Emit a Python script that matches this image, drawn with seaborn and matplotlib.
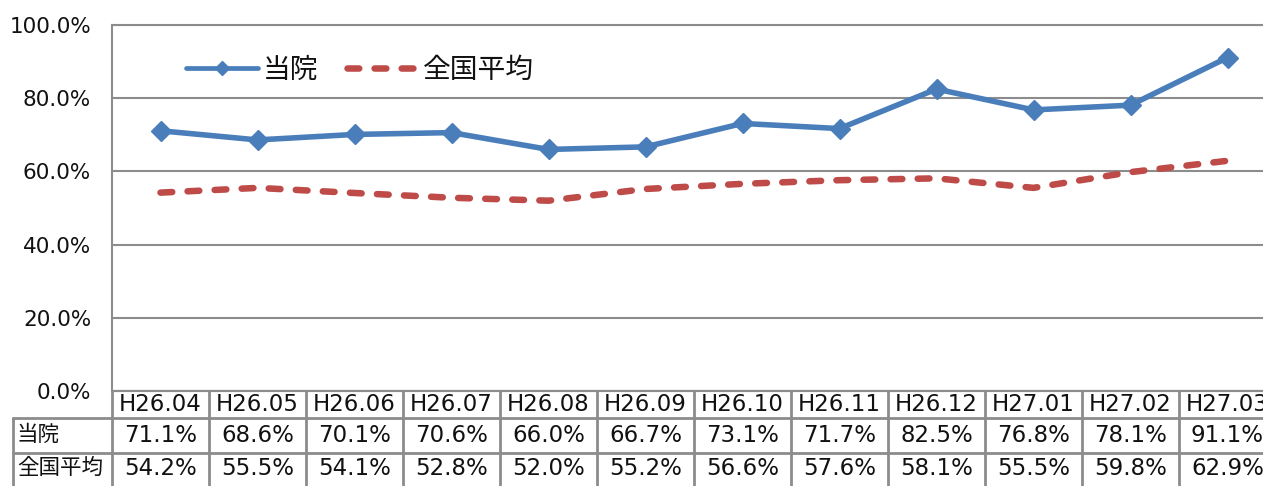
import numpy as np
import pandas as pd
import matplotlib
matplotlib.use('Agg')
import matplotlib.pyplot as plt
import seaborn as sns
from matplotlib.ticker import FuncFormatter

# ---- data ----
months = ['H26.04', 'H26.05', 'H26.06', 'H26.07', 'H26.08', 'H26.09',
          'H26.10', 'H26.11', 'H26.12', 'H27.01', 'H27.02', 'H27.03']
hospital = [71.1, 68.6, 70.1, 70.6, 66.0, 66.7, 73.1, 71.7, 82.5, 76.8, 78.1, 91.1]
national = [54.2, 55.5, 54.1, 52.8, 52.0, 55.2, 56.6, 57.6, 58.1, 55.5, 59.8, 62.9]
series_names = ['当院', '全国平均']
y_ticks = [0, 20, 40, 60, 80, 100]

sns.set_theme(style='white')
plt.rcParams['font.family'] = ['DejaVu Sans', 'Noto Sans CJK JP']

W, H = 1263, 486
fig = plt.figure(figsize=(W / 100, H / 100), dpi=100)

# plot-area pixel geometry (category width ~97px, right part clipped by figure)
x0, x1, ytop, ybot = 112, 1276, 25, 391
ax = fig.add_axes([x0 / W, 1 - ybot / H, (x1 - x0) / W, (ybot - ytop) / H])

df = pd.DataFrame({'pos': np.arange(len(months)), 'month': months,
                   series_names[0]: hospital, series_names[1]: national})

BLUE = '#4A7EBB'
RED = '#BE4B48'
GRID = '#8C8C8C'
TXT = '#111111'

sns.lineplot(data=df, x='pos', y=series_names[0], ax=ax, color=BLUE, lw=4.0,
             marker='D', markersize=10, markeredgecolor=BLUE, markeredgewidth=1,
             label=series_names[0])
sns.lineplot(data=df, x='pos', y=series_names[1], ax=ax, color=RED, lw=4.7,
             linestyle=(0, (1.8, 2.35)), dash_capstyle='round',
             label=series_names[1])

ax.set_xlim(-0.5, len(months) - 0.5)
ax.set_ylim(0, 100)
ax.set_xticks([])
ax.set_yticks(y_ticks)
ax.yaxis.set_major_formatter(FuncFormatter(lambda v, _: f'{v:.1f}%'))
ax.tick_params(axis='y', length=0, pad=15, labelsize=15.5, labelcolor=TXT)
ax.set_xlabel('')
ax.set_ylabel('')
ax.grid(axis='y', color=GRID, lw=1.5)
ax.spines['right'].set_visible(False)
for s in ['left', 'top', 'bottom']:
    ax.spines[s].set_color(GRID)
    ax.spines[s].set_linewidth(1.5)

leg = ax.legend(loc='center left',
                bbox_to_anchor=((186 - x0) / (x1 - x0), (ybot - 70) / (ybot - ytop)),
                frameon=False, ncol=2, fontsize=20, handlelength=2.6, handletextpad=0.15,
                columnspacing=1.05, borderaxespad=0, borderpad=0, labelcolor=TXT)
blue_handle = leg.get_lines()[0]
blue_handle.set_markersize(7)
blue_handle.set_linewidth(3.4)

# ---- data table below the chart ----
tl = 13
cw = 97.0
ax_t = fig.add_axes([tl / W, 0, (x1 - tl) / W, (H - ybot) / H])
xl = -0.5 - (x0 - tl) / cw
ax_t.set_xlim(xl, len(months) - 0.5)
ax_t.set_ylim(H - ybot, 0)
ax_t.axis('off')

rows_y = [0, 27, 61.5, 96]
lc = '#8C8C8C'
ax_t.plot([-0.5, len(months) - 0.5], [rows_y[0]] * 2, color=lc, lw=1.5, clip_on=False)
for yy in rows_y[1:3]:
    ax_t.plot([xl, len(months) - 0.5], [yy, yy], color=lc, lw=2, clip_on=False)
for i in range(len(months) + 1):
    ax_t.plot([i - 0.5, i - 0.5], [0, rows_y[3]], color=lc, lw=2, clip_on=False)
ax_t.plot([xl, xl], [rows_y[1], rows_y[3]], color=lc, lw=2, clip_on=False)

fs = 16.5
for i, m in enumerate(months):
    ax_t.text(i, (rows_y[0] + rows_y[1]) / 2, m, ha='center', va='center', fontsize=fs, color=TXT)
    ax_t.text(i, (rows_y[1] + rows_y[2]) / 2, f'{hospital[i]:.1f}%', ha='center', va='center',
              fontsize=fs, color=TXT)
    ax_t.text(i, (rows_y[2] + rows_y[3]) / 2 - 1.5, f'{national[i]:.1f}%', ha='center', va='center',
              fontsize=fs, color=TXT)
for j, name in enumerate(series_names):
    ax_t.text(xl + 4 / cw, (rows_y[j + 1] + rows_y[j + 2]) / 2 - (1.5 if j else 0), name,
              ha='left', va='center', fontsize=15.5, color=TXT)

fig.savefig('out.png', dpi=100)
